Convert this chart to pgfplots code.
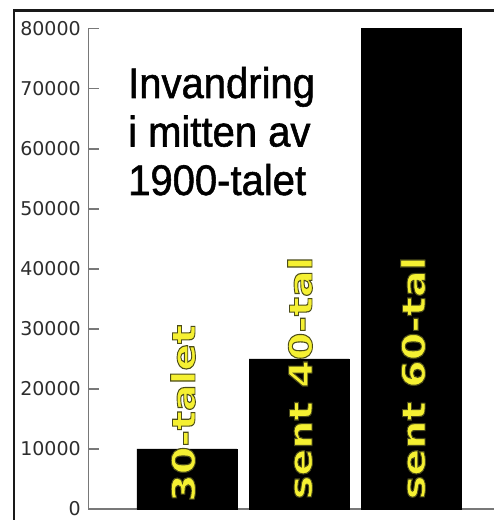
\documentclass[border=0pt]{standalone}
\usepackage{fontspec}
\setmainfont{Liberation Sans}
\newfontfamily\titlefont{Liberation Sans}[FakeBold=1.3]
\newfontfamily\dejavu{DejaVu Sans}
\usepackage{pgfplots}
\pgfplotsset{compat=1.18}
\definecolor{barlab}{RGB}{245,240,50}
\definecolor{ticklab}{RGB}{45,45,45}
\definecolor{axgray}{RGB}{120,120,120}
\definecolor{frame}{RGB}{25,25,25}
\newcommand{\outl}[1]{\special{pdf:literal 2 Tr 0.9 w 0.3 0.3 0.1 RG}#1\special{pdf:literal 0 Tr}}
\newcommand{\barlabel}[1]{\color{barlab}\outl{\scalebox{1.24}[1]{#1}}}
\begin{document}
\begin{tikzpicture}
\begin{axis}[
  at={(0,0)}, anchor=south west,
  width=405.5pt, height=480.5pt, scale only axis,
  xmin=-0.8775, xmax=2.735, ymin=0, ymax=80000,
  axis lines*=left,
  axis line style={axgray, line width=1.8pt},
  xtick=\empty,
  ytick={0,10000,20000,30000,40000,50000,60000,70000,80000},
  tick align=inside,
  major tick length=11pt,
  ytick style={axgray, line width=1.8pt},
  scaled y ticks=false,
  yticklabel style={font=\dejavu\fontsize{19}{19}\selectfont, text=ticklab, inner sep=0pt, xshift=-7.6pt, /pgf/number format/.cd, set thousands separator={}, assume math mode=true},
  clip=false,
]
\addplot[ybar, bar width=100pt, fill=black, draw=black] coordinates {(0,10000) (1,25000) (2,80000)};
\end{axis}
\node[anchor=base west, inner sep=0pt, font=\titlefont\fontsize{40}{40}\selectfont] at (39.5pt,411pt) {\scalebox{1}[1.07]{Invandring}};
\node[anchor=base west, inner sep=0pt, font=\titlefont\fontsize{40}{40}\selectfont] at (39.5pt,362.5pt) {\scalebox{1}[1.07]{i mitten av}};
\node[anchor=base west, inner sep=0pt, font=\titlefont\fontsize{40}{40}\selectfont] at (39.5pt,314pt) {\scalebox{1}[1.07]{1900-talet}};
\node[rotate=90, anchor=base west, inner sep=0pt, font=\dejavu\bfseries\fontsize{32}{32}\selectfont] at (106.5pt,7pt) {\barlabel{30-talet}};
\node[rotate=90, anchor=base west, inner sep=0pt, font=\dejavu\bfseries\fontsize{32}{32}\selectfont] at (223.5pt,9.5pt) {\barlabel{sent 40-tal}};
\node[rotate=90, anchor=base west, inner sep=0pt, font=\dejavu\bfseries\fontsize{32}{32}\selectfont] at (336.5pt,9.5pt) {\barlabel{sent 60-tal}};
\draw[line width=2.7pt, frame] (-74.5pt,-30pt) -- (-74.5pt,498.3pt) -- (430pt,498.3pt);
\pgfresetboundingbox
\useasboundingbox (-88.5pt,-11pt) rectangle (405.5pt,509pt);
\end{tikzpicture}
\end{document}
